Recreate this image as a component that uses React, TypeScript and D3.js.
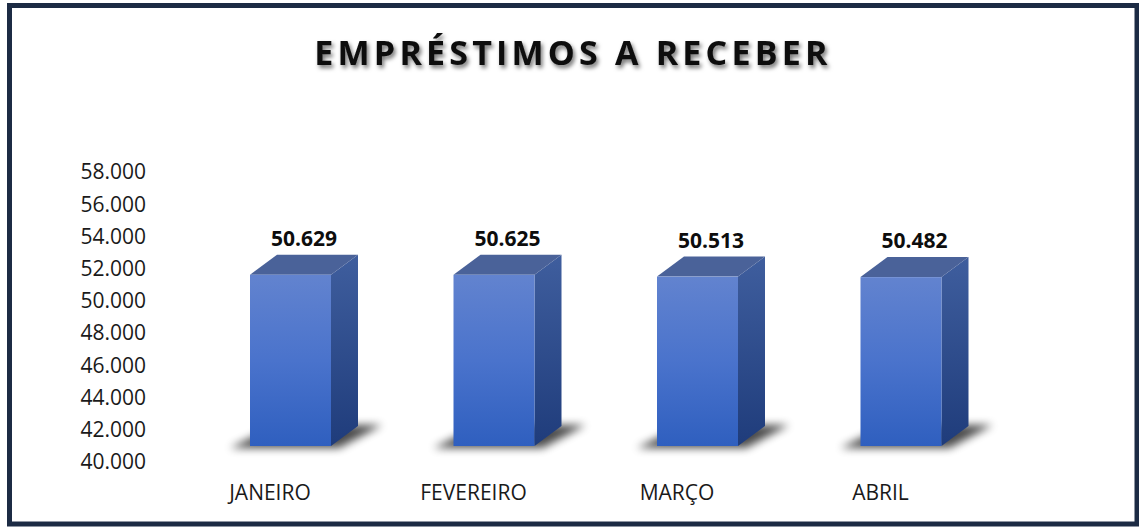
import React from "react";
import * as d3 from "d3";

const categories = ["JANEIRO", "FEVEREIRO", "MARÇO", "ABRIL"];
const values = [50629, 50625, 50513, 50482];
const tickValues = [40000, 42000, 44000, 46000, 48000, 50000, 52000, 54000, 56000, 58000];
const title = "EMPRÉSTIMOS A RECEBER";

const W = 1139;
const H = 527;

const locale = d3.formatLocale({ decimal: ",", thousands: ".", grouping: [3], currency: ["R$ ", ""] });
const fmt = locale.format(",d");

export default function App() {
  const y = d3.scaleLinear().domain([40000, 58000]).range([462, 172]);
  const x = d3.scalePoint<string>().domain(categories).range([290.5, 901]);
  const barW = 81;
  const lift = 16;
  const dx = 27;
  const dy = -20;
  const floorY = y(40000) - lift;

  return (
    <svg width={W} height={H} style={{ position: "absolute", left: 0, top: 0 }} fontFamily="'Open Sans', sans-serif">
      <defs>
        <linearGradient id="front" x1="0" y1="0" x2="0" y2="1">
          <stop offset="0" stopColor="#6283cf" />
          <stop offset="0.5" stopColor="#4a73cc" />
          <stop offset="1" stopColor="#2f5fbf" />
        </linearGradient>
        <linearGradient id="side" x1="0" y1="0" x2="0" y2="1">
          <stop offset="0" stopColor="#3f5e9e" />
          <stop offset="1" stopColor="#1f3c7b" />
        </linearGradient>
        <filter id="tshadow" x="-10%" y="-30%" width="120%" height="160%">
          <feDropShadow dx="2" dy="3" stdDeviation="2" floodColor="#000" floodOpacity="0.55" />
        </filter>
        <filter id="blur" x="-50%" y="-100%" width="200%" height="300%">
          <feGaussianBlur stdDeviation="4" />
        </filter>
      </defs>
      <rect x={0} y={0} width={W} height={H} fill="#fff" />
      <rect x={9.5} y={5.5} width={1127.5} height={518.5} fill="#fff" stroke="#1c2b44" strokeWidth={5} />

      <text
        x={573}
        y={65}
        textAnchor="middle"
        fontSize={34}
        fontWeight={700}
        letterSpacing={4.2}
        fill="#0d0d0d"
        filter="url(#tshadow)"
      >
        {title}
      </text>

      {tickValues.map((t) => (
        <text key={t} x={146} y={y(t)} dy="0.35em" textAnchor="end" fontSize={21} fill="#1a1a1a">
          {fmt(t)}
        </text>
      ))}

      {categories.map((c, i) => {
        const cx = x(c) as number;
        const L = cx - barW / 2;
        const R = cx + barW / 2;
        const top = y(values[i]) - lift;
        const shadow = [
          [L - 20, floorY + 2],
          [R + 8, floorY + 2],
          [R + dx + 24, floorY + dy - 1],
          [L + dx, floorY + dy - 1],
        ];
        return (
          <g key={c}>
            <polygon points={shadow.map((p) => p.join(",")).join(" ")} fill="#000" opacity={0.7} filter="url(#blur)" />
            <polygon
              points={[[R, top], [R + dx, top + dy], [R + dx, floorY + dy], [R, floorY]].map((p) => p.join(",")).join(" ")}
              fill="url(#side)"
            />
            <polygon
              points={[[L, top], [L + dx, top + dy], [R + dx, top + dy], [R, top]].map((p) => p.join(",")).join(" ")}
              fill="#4a6299"
            />
            <rect x={L} y={top} width={barW} height={floorY - top} fill="url(#front)" />
            <text
              x={cx + dx / 2}
              y={top - 36}
              dy="0.35em"
              textAnchor="middle"
              fontSize={21}
              fontWeight={700}
              fill="#0d0d0d"
            >
              {fmt(values[i])}
            </text>
            <text x={cx - 20.5} y={493} dy="0.35em" textAnchor="middle" fontSize={21} fill="#1a1a1a">
              {c}
            </text>
          </g>
        );
      })}
    </svg>
  );
}
